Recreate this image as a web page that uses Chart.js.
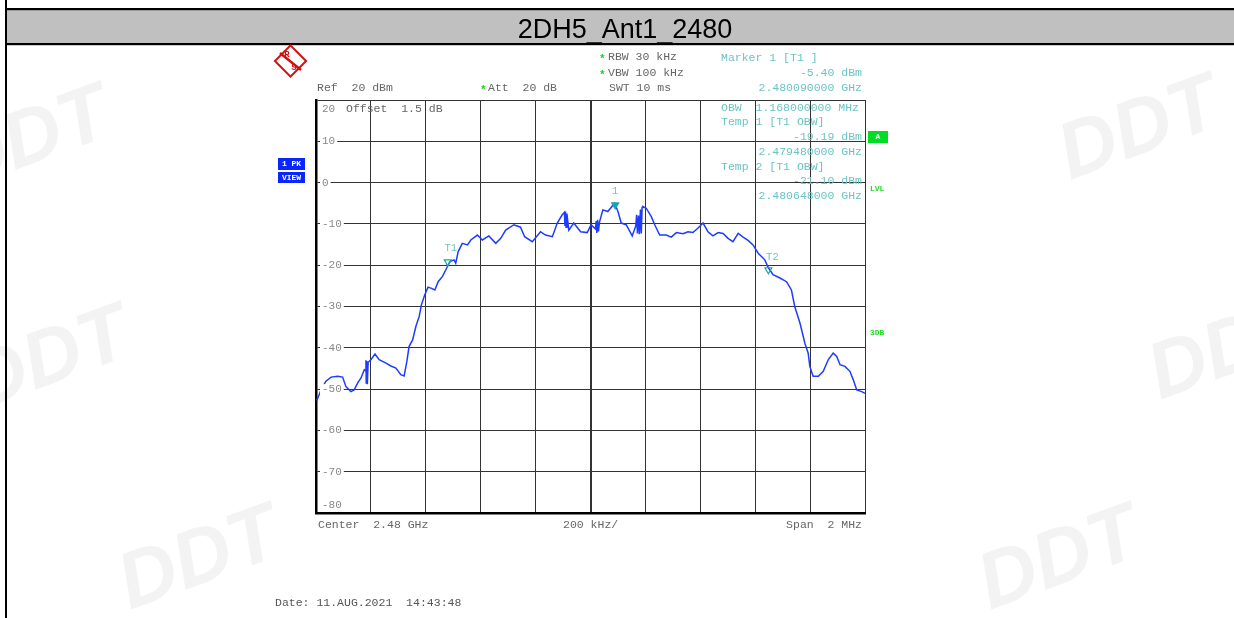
<!DOCTYPE html>
<html>
<head>
<meta charset="utf-8">
<script src="https://cdn.jsdelivr.net/npm/chart.js@4.4.1/dist/chart.umd.min.js"></script>
<style>
  html, body { margin: 0; padding: 0; background: #fff; }
  canvas { display: block; }
</style>
</head>
<body>
<canvas id="myChart" width="1234" height="618"></canvas>
<script>
// trace: offset from centre (kHz) and level (dBm)
var freqKHz = [-1000, -996, -982, -964, -945, -921, -903, -891, -873, -861, -848, -836, -824,
  -820, -818, -817, -815, -813, -810, -805, -800, -785, -770, -745, -727, -709, -691, -679,
  -669, -661, -648, -636, -624, -616, -604, -592, -579, -567, -555, -539, -527, -512, -497,
  -491, -482, -467, -448, -436, -412, -394, -370, -345, -327, -309, -279, -255, -240, -212,
  -182, -164, -139, -121, -103, -95, -93, -91, -89, -86, -79, -61, -36, -12, 2,
  18, 21, 23, 26, 29, 33, 45, 63, 88, 100, 112, 130, 152,
  165, 168, 171, 175, 178, 182, 185, 188, 191, 203, 221, 234, 252, 276, 294, 313, 337,
  355, 373, 392, 410, 428, 446, 465, 483, 501, 519, 538, 556, 574, 592, 611, 635, 647,
  665, 690, 714, 732, 744, 763, 781, 793, 799, 811, 830, 848, 866, 884, 897, 909, 927,
  945, 957, 970, 988, 1000];
var levelDbm = [-52.5, -52.6, -50.3, -48.1, -47.1, -46.9, -47.1, -49.4, -50.6, -50.2, -48.5, -47.3, -45.3,
  -45.5, -43.0, -48.5, -43.2, -48.8, -43.5, -43.2, -42.9, -41.5, -42.9, -43.7, -44.4, -44.9, -46.5, -46.8,
  -43.3, -39.7, -38.1, -34.8, -32.4, -29.6, -27.2, -25.3, -25.6, -26.0, -24.0, -22.7, -21.1, -19.1, -18.7,
  -19.5, -16.7, -14.7, -15.1, -13.9, -12.7, -13.9, -12.9, -14.7, -13.5, -11.5, -10.2, -10.8, -13.1, -14.3,
  -11.9, -12.7, -13.1, -9.8, -7.8, -7.2, -10.5, -7.0, -10.8, -7.5, -11.5, -9.8, -11.9, -12.1, -10.2,
  -11.2, -9.3, -12.2, -9.0, -11.8, -9.5, -6.6, -7.0, -5.0, -7.0, -9.8, -10.2, -12.9,
  -10.5, -7.8, -12.3, -8.0, -12.5, -6.5, -12.3, -6.0, -5.8, -6.2, -8.2, -10.2, -12.7, -12.7, -13.2, -12.1, -12.4,
  -11.9, -12.1, -11.0, -9.8, -11.9, -12.9, -12.1, -12.3, -13.5, -14.3, -12.3, -13.2, -14.0, -15.1, -17.1, -18.7, -20.5,
  -22.3, -23.1, -24.0, -26.0, -30.0, -34.0, -38.9, -41.3, -44.5, -46.9, -46.9, -45.7, -42.9, -41.3, -42.1, -44.1, -44.5,
  -45.7, -47.7, -50.2, -50.6, -51.0];

// markers
var markerNames = ["1", "T1", "T2"];
var markerKHz = [90, -520, 648];
var markerDbm = [-5.40, -19.19, -21.10];

var yTicks = [20, 10, 0, -10, -20, -30, -40, -50, -60, -70, -80];

var mono = '"Liberation Mono", "Courier New", monospace';

function txt(c, s, x, y, color, size, align, weight) {
  c.font = (weight || 'normal') + ' ' + (size || 11.5) + 'px ' + mono;
  c.fillStyle = color;
  c.textAlign = align || 'left';
  c.textBaseline = 'middle';
  c.fillText(s, x, y);
}

function star(c, x, y) {
  txt(c, '*', x, y + 2, '#22cc22', 11, 'left', 'bold');
}

var screenPlugin = {
  id: 'screen',
  beforeDraw: function (chart) {
    var c = chart.ctx;
    c.save();
    c.fillStyle = '#fff';
    c.fillRect(0, 0, chart.width, chart.height);

    // faint watermarks
    c.fillStyle = '#f3f3f3';
    c.font = 'italic bold 80px "Liberation Sans", Arial, sans-serif';
    var wm = [[-40, 190], [-20, 410], [130, 610], [1070, 180], [1160, 400], [990, 610]];
    wm.forEach(function (p) {
      c.save();
      c.translate(p[0], p[1]);
      c.rotate(-0.35);
      c.fillText('DDT', 0, 0);
      c.restore();
    });

    // header band
    c.fillStyle = '#c0c0c0';
    c.fillRect(6, 10, chart.width - 6, 34);
    c.fillStyle = '#000';
    c.fillRect(5, 8, chart.width - 5, 2.2);
    c.fillRect(5, 43, chart.width - 5, 2.2);
    c.fillRect(5, 0, 2, chart.height);
    c.font = '27px "Liberation Sans", Arial, sans-serif';
    c.textAlign = 'center';
    c.textBaseline = 'alphabetic';
    c.fillStyle = '#000';
    c.fillText('2DH5_Ant1_2480', 625, 38);
    c.restore();
  },
  afterDraw: function (chart) {
    var c = chart.ctx;
    var a = chart.chartArea;
    var xs = chart.scales.x, ys = chart.scales.y;
    c.save();

    // R&S logo
    c.save();
    c.translate(290.5, 61);
    c.rotate(Math.PI / 4);
    c.strokeStyle = '#d01010';
    c.lineWidth = 2;
    c.strokeRect(-11, -11, 22, 22);
    c.restore();
    c.strokeStyle = '#d01010';
    c.lineWidth = 2.5;
    c.beginPath();
    c.moveTo(280, 53); c.lineTo(301, 70);
    c.stroke();
    txt(c, 'R', 287, 55, '#d01010', 9, 'center', 'bold');
    txt(c, 'S', 294, 68, '#d01010', 9, 'center', 'bold');

    // settings text
    var grey = '#666';
    var teal = '#6cc4c4';
    txt(c, 'Ref  20 dBm', 317, 88, grey);
    star(c, 480, 88);
    txt(c, 'Att  20 dB', 488, 88, grey);
    star(c, 599, 57);
    txt(c, 'RBW 30 kHz', 608, 57, grey);
    star(c, 599, 73);
    txt(c, 'VBW 100 kHz', 608, 73, grey);
    txt(c, 'SWT 10 ms', 609, 88, grey);

    txt(c, 'Marker 1 [T1 ]', 721, 58, teal);
    txt(c, '-5.40 dBm', 862, 73, teal, 11.5, 'right');
    txt(c, '2.480090000 GHz', 862, 88, teal, 11.5, 'right');
    txt(c, 'OBW  1.168000000 MHz', 721, 108, teal);
    txt(c, 'Temp 1 [T1 OBW]', 721, 122, teal);
    txt(c, '-19.19 dBm', 862, 137, teal, 11.5, 'right');
    txt(c, '2.479480000 GHz', 862, 152, teal, 11.5, 'right');
    txt(c, 'Temp 2 [T1 OBW]', 721, 167, teal);
    txt(c, '-21.10 dBm', 862, 181, teal, 11.5, 'right');
    txt(c, '2.480648000 GHz', 862, 196, teal, 11.5, 'right');
    txt(c, 'Offset  1.5 dB', 346, 109, grey);

    // y tick labels sitting on the grid lines
    yTicks.forEach(function (v) {
      var y = ys.getPixelForValue(v);
      if (v === 20) y += 9;
      if (v === -80) y -= 8;
      var s = String(v);
      c.font = '11px ' + mono;
      var w = c.measureText(s).width;
      c.fillStyle = '#fff';
      c.fillRect(a.left + 4, y - 5, w + 4, 10);
      txt(c, s, a.left + 6, y, '#888', 11);
    });

    // marker labels
    markerNames.forEach(function (n, i) {
      var x = xs.getPixelForValue(markerKHz[i]);
      var y = ys.getPixelForValue(markerDbm[i]);
      if (n === 'T2') txt(c, n, x + 4, y - 13, teal, 10.5, 'center');
      else txt(c, n, x + (n === 'T1' ? 3 : 0), y - 14, teal, 10.5, 'center');
    });

    // side boxes
    c.fillStyle = '#0a26ff';
    c.fillRect(278, 158, 27, 12);
    c.fillRect(278, 172, 27, 11);
    txt(c, '1 PK', 291.5, 164, '#fff', 8, 'center', 'bold');
    txt(c, 'VIEW', 291.5, 177.5, '#fff', 8, 'center', 'bold');
    c.fillStyle = '#00dd22';
    c.fillRect(868, 131, 20, 12);
    txt(c, 'A', 878, 137, '#fff', 8, 'center', 'bold');
    txt(c, 'LVL', 870, 189, '#22dd22', 8, 'left', 'bold');
    txt(c, '3DB', 870, 333, '#22dd22', 8, 'left', 'bold');

    // bottom
    txt(c, 'Center  2.48 GHz', 318, 525, grey);
    txt(c, '200 kHz/', 563, 525, grey);
    txt(c, 'Span  2 MHz', 862, 525, grey, 11.5, 'right');
    txt(c, 'Date: 11.AUG.2021  14:43:48', 275, 603, '#555');
    c.restore();
  }
};

var trace = freqKHz.map(function (f, i) { return { x: f, y: levelDbm[i] }; });
var marks = markerKHz.map(function (f, i) { return { x: f, y: markerDbm[i] }; });

var ctx = document.getElementById('myChart');
var chart = new Chart(ctx, {
  type: 'line',
  data: {
    datasets: [
      {
        label: 'markers',
        data: marks,
        showLine: false,
        pointStyle: 'triangle',
        rotation: 180,
        pointRadius: 4,
        pointBackgroundColor: ['#1aa6a6', 'rgba(0,0,0,0)', 'rgba(0,0,0,0)'],
        pointBorderColor: '#1aa6a6',
        pointBorderWidth: 1.2,
        order: 0
      },
      {
        label: '1 PK',
        data: trace,
        borderColor: '#1e3cff',
        borderWidth: 1.5,
        pointRadius: 0,
        tension: 0,
        order: 1
      }
    ]
  },
  options: {
    responsive: false,
    animation: false,
    events: [],
    layout: { padding: { left: 316, right: 369, top: 100, bottom: 105 } },
    plugins: { legend: { display: false }, tooltip: { enabled: false } },
    scales: {
      x: {
        type: 'linear',
        min: -1000,
        max: 1000,
        afterFit: function (s) { s.height = 0; },
        ticks: { display: false, stepSize: 200 },
        grid: {
          drawTicks: false,
          color: '#333',
          lineWidth: function (ct) { return ct.tick && ct.tick.value === 0 ? 2 : 1; }
        },
        border: { display: true, color: '#000', width: 2.5 }
      },
      y: {
        min: -80,
        max: 20,
        afterFit: function (s) { s.width = 0; },
        ticks: { display: false, stepSize: 10 },
        grid: { drawTicks: false, color: '#333', lineWidth: 1 },
        border: { display: true, color: '#000', width: 2.5 }
      }
    }
  },
  plugins: [screenPlugin]
});
</script>
</body>
</html>
